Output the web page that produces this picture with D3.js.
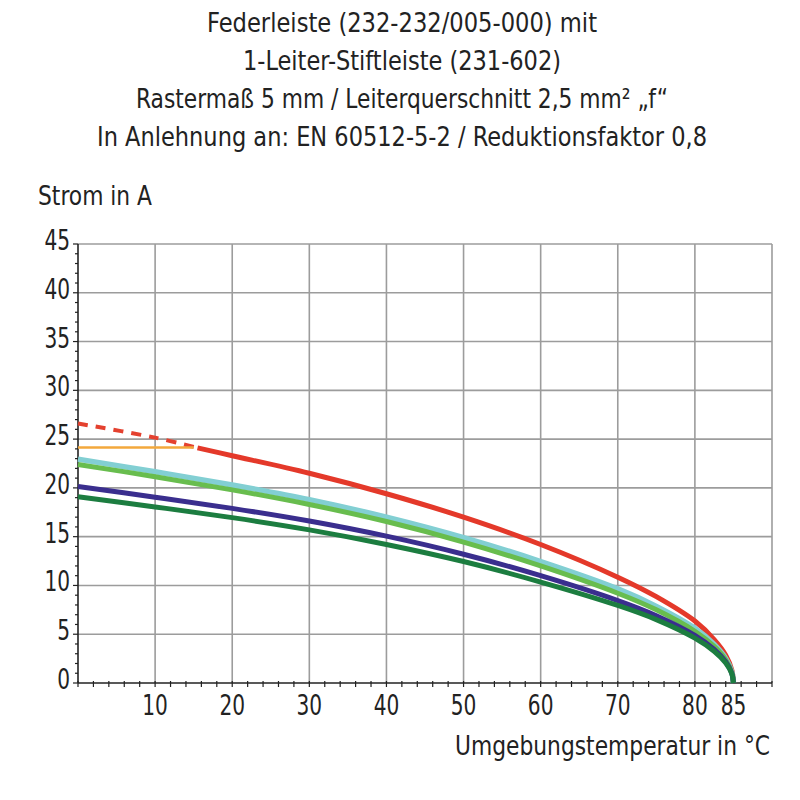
<!DOCTYPE html>
<html lang="de">
<head>
<meta charset="UTF-8">
<title>Federleiste 232-232/005-000 Derating</title>
<script src="https://d3js.org/d3.v7.min.js"></script>
<style>
  body { margin: 0; background: #fff; }
  svg { font-family: "Liberation Sans Narrow", "DejaVu Sans Condensed", "Roboto", sans-serif; fill: #222; }
  .grid { stroke: #9c9c9c; stroke-width: 1.6px; }
  .ax { stroke: #222; stroke-width: 1.6px; }
  .tick { stroke: #222; stroke-width: 1.2px; }
</style>
</head>
<body>
<svg></svg>
<script>
const [width, height] = [800, 800]

// chart texts
const titleLines = [
  'Federleiste (232-232/005-000) mit',
  '1-Leiter-Stiftleiste (231-602)',
  'Rastermaß 5 mm / Leiterquerschnitt 2,5 mm² „f“',
  'In Anlehnung an: EN 60512-5-2 / Reduktionsfaktor 0,8'
]
const titleWidths = [390, 318, 532, 610]
const yLabel = 'Strom in A'
const xLabel = 'Umgebungstemperatur in °C'

// ticks
const xTicks = [10, 20, 30, 40, 50, 60, 70, 80, 85]
const xGrid = [10, 20, 30, 40, 50, 60, 70, 80, 90]
const yTicks = [0, 5, 10, 15, 20, 25, 30, 35, 40, 45]

// temperatures (°C) and currents (A)
const tempMain = [0, 10, 20, 30, 40, 50, 60, 70, 75, 80, 82.5, 84, 84.8, 85]
const lightBlue = [22.95, 21.65, 20.3, 18.8, 17.0, 14.9, 12.45, 9.65, 7.85, 5.6, 3.95, 2.5, 1.1, 0]
const lightGreen = [22.4, 21.15, 19.8, 18.3, 16.55, 14.45, 12.0, 9.2, 7.5, 5.3, 3.75, 2.38, 1.05, 0]
const purple = [20.15, 19.05, 17.9, 16.6, 15.05, 13.2, 11.0, 8.45, 6.9, 4.88, 3.45, 2.18, 0.98, 0]
const darkGreen = [19.1, 18.05, 16.95, 15.7, 14.2, 12.45, 10.35, 7.95, 6.5, 4.6, 3.25, 2.05, 0.92, 0]

const tempRed = [15.5, 20, 30, 40, 50, 60, 70, 75, 80, 82.5, 84, 84.8, 85]
const red = [24.1, 23.3, 21.5, 19.4, 17.0, 14.2, 10.85, 8.85, 6.35, 4.45, 2.85, 1.3, 0]
const tempRedDash = [0, 10, 15.5]
const redDash = [26.6, 25.15, 24.1]
const tempOrange = [0, 15]
const orange = [24.15, 24.15]

const svg = d3.select('svg').attr('width', width).attr('height', height)

const x = d3.scaleLinear().domain([0, 90]).range([78, 772])
const y = d3.scaleLinear().domain([0, 45]).range([683, 244])

// title
svg.append('g').selectAll('text').data(titleLines).join('text')
  .attr('x', 402).attr('y', (d, i) => 32 + i * 38)
  .attr('text-anchor', 'middle').attr('font-size', 26)
  .attr('textLength', (d, i) => titleWidths[i]).attr('lengthAdjust', 'spacingAndGlyphs')
  .text(d => d)

// grid
svg.append('g').selectAll('line').data(xGrid).join('line').attr('class', 'grid')
  .attr('x1', d => x(d)).attr('x2', d => x(d)).attr('y1', y(0)).attr('y2', y(45))
svg.append('g').selectAll('line').data(yTicks.slice(1)).join('line').attr('class', 'grid')
  .attr('x1', x(0)).attr('x2', x(90)).attr('y1', d => y(d)).attr('y2', d => y(d))

// minor ticks
svg.append('g').selectAll('line').data(d3.range(0, 91, 2)).join('line').attr('class', 'tick')
  .attr('x1', d => x(d)).attr('x2', d => x(d)).attr('y1', y(0) - 2).attr('y2', y(0) + 4)
svg.append('g').selectAll('line').data(d3.range(0, 46, 1)).join('line').attr('class', 'tick')
  .attr('x1', x(0)).attr('x2', d => x(0) - (d % 5 ? 3 : 5))
  .attr('y1', d => y(d)).attr('y2', d => y(d))

// axes
svg.append('line').attr('class', 'ax').attr('x1', x(0)).attr('x2', x(0)).attr('y1', y(0)).attr('y2', y(45))
svg.append('line').attr('class', 'ax').attr('x1', x(0)).attr('x2', x(90)).attr('y1', y(0)).attr('y2', y(0))

// tick labels (narrow digits like the reference)
svg.append('g').selectAll('text').data(yTicks).join('text')
  .attr('x', 70).attr('y', d => y(d) + 6)
  .attr('text-anchor', 'end').attr('font-size', 28)
  .attr('textLength', d => String(d).length * 12.8).attr('lengthAdjust', 'spacingAndGlyphs')
  .text(d => d)
svg.append('g').selectAll('text').data(xTicks).join('text')
  .attr('x', d => x(d)).attr('y', 715)
  .attr('text-anchor', 'middle').attr('font-size', 28)
  .attr('textLength', d => String(d).length * 12.8).attr('lengthAdjust', 'spacingAndGlyphs')
  .text(d => d)

// axis titles
svg.append('text').attr('x', 38).attr('y', 205).attr('font-size', 26)
  .attr('textLength', 114).attr('lengthAdjust', 'spacingAndGlyphs').text(yLabel)
svg.append('text').attr('x', 455).attr('y', 755).attr('font-size', 26)
  .attr('textLength', 315).attr('lengthAdjust', 'spacingAndGlyphs').text(xLabel)

// curves
const line = d3.line().x(d => x(d[0])).y(d => y(d[1])).curve(d3.curveCatmullRom.alpha(0.5))
const series = [
  {t: tempRedDash, v: redDash, color: '#e4412f', w: 4, dash: '10 8'},
  {t: tempOrange, v: orange, color: '#f3a83c', w: 2.5},
  {t: tempRed, v: red, color: '#e4392a', w: 5},
  {t: tempMain, v: lightBlue, color: '#82cfd3', w: 5.5},
  {t: tempMain, v: lightGreen, color: '#68bd4e', w: 5},
  {t: tempMain, v: purple, color: '#3a2e8e', w: 5},
  {t: tempMain, v: darkGreen, color: '#1c7d40', w: 5}
]
svg.append('g').selectAll('path').data(series).join('path')
  .attr('d', s => line(d3.zip(s.t, s.v)))
  .attr('fill', 'none').attr('stroke', s => s.color).attr('stroke-width', s => s.w)
  .attr('stroke-dasharray', s => s.dash || null)
</script>
</body>
</html>
